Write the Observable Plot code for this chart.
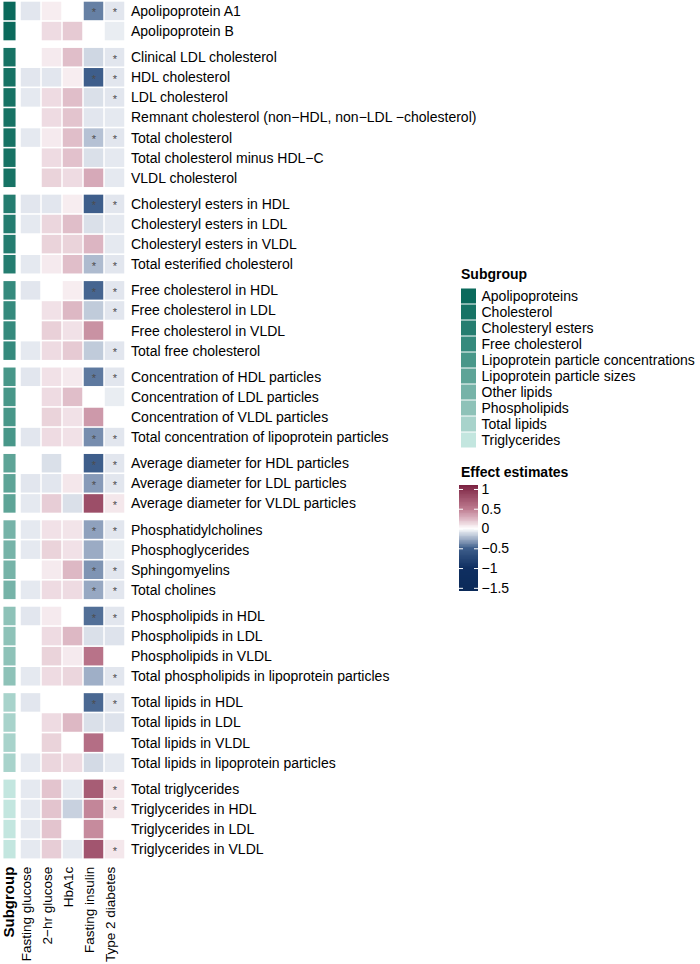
<!DOCTYPE html>
<html><head><meta charset="utf-8">
<script src="https://cdn.jsdelivr.net/npm/d3@7"></script>
<script src="https://cdn.jsdelivr.net/npm/@observablehq/plot@0.6"></script>
<style>
body{margin:0;background:#fff;font-family:"Liberation Sans",Arial,Helvetica,sans-serif;}
#wrap{position:relative;width:700px;height:964px;overflow:hidden;background:#fff;}
#wrap > *{position:absolute;}
.ltitle{font-weight:bold;font-size:14px;line-height:16px;color:#000;white-space:nowrap;}
</style></head><body><div id="wrap"></div><script>
// ---------- data ----------
const rows = [
  "Apolipoprotein A1","Apolipoprotein B",
  "Clinical LDL cholesterol","HDL cholesterol","LDL cholesterol",
  "Remnant cholesterol (non\u2212HDL, non\u2212LDL \u2212cholesterol)","Total cholesterol",
  "Total cholesterol minus HDL\u2212C","VLDL cholesterol",
  "Cholesteryl esters in HDL","Cholesteryl esters in LDL","Cholesteryl esters in VLDL","Total esterified cholesterol",
  "Free cholesterol in HDL","Free cholesterol in LDL","Free cholesterol in VLDL","Total free cholesterol",
  "Concentration of HDL particles","Concentration of LDL particles","Concentration of VLDL particles","Total concentration of lipoprotein particles",
  "Average diameter for HDL particles","Average diameter for LDL particles","Average diameter for VLDL particles",
  "Phosphatidylcholines","Phosphoglycerides","Sphingomyelins","Total cholines",
  "Phospholipids in HDL","Phospholipids in LDL","Phospholipids in VLDL","Total phospholipids in lipoprotein particles",
  "Total lipids in HDL","Total lipids in LDL","Total lipids in VLDL","Total lipids in lipoprotein particles",
  "Total triglycerides","Triglycerides in HDL","Triglycerides in LDL","Triglycerides in VLDL"
];
const subgroups = ["Apolipoproteins","Cholesterol","Cholesteryl esters","Free cholesterol",
  "Lipoprotein particle concentrations","Lipoprotein particle sizes","Other lipids",
  "Phospholipids","Total lipids","Triglycerides"];
const subgroupSizes = [2,7,4,4,4,3,4,4,4,4];
const subgroupColors = ["#0b6a5c","#177365","#257d70","#358a7d","#489789","#5ea497","#76b3a8","#8ec2b8","#a8d3cb","#c3e6df"];
const traits = ["Fasting glucose","2\u2212hr glucose","HbA1c","Fasting insulin","Type 2 diabetes"];

const fastingGlucose = [-0.08,0, 0,-0.08,-0.07,0,-0.07,0,0, -0.08,-0.07,0,-0.07, -0.08,0,0,-0.07,
  -0.08,0,0,-0.08, 0,-0.08,-0.07, -0.07,-0.07,0,-0.07, -0.08,0,0,-0.07, -0.08,0,0,-0.07, -0.07,-0.07,-0.07,-0.07];
const twoHrGlucose = [0.06,0.12, 0.07,-0.08,0.12,0.12,0.07,0.12,0.15, -0.08,0.14,0.15,0.07, 0,0.1,0.16,0.12,
  0.1,0.12,0.15,0.12, -0.1,-0.08,0.17, 0.1,0.15,0.07,0.12, 0.07,0.12,0.15,0.12, 0,0.12,0.15,0.14, 0.2,0.2,0.2,0.17];
const hba1c = [0,0.18, 0.22,0.06,0.22,0.2,0.22,0.21,0.12, 0.06,0.22,0.15,0.22, 0.06,0.24,0.1,0.18,
  0.07,0.22,0.1,0.1, 0,0.08,-0.1, 0.09,0.1,0.24,0.12, 0,0.24,0.07,0.14, 0,0.24,0,0.12, -0.07,-0.15,0,-0.07];
const fastingInsulin = [-0.4,0, -0.13,-0.5,-0.1,-0.08,-0.2,-0.1,0.3, -0.5,-0.1,0.25,-0.22, -0.48,-0.17,0.4,-0.17,
  -0.42,0,0.37,-0.36, -0.5,-0.32,0.8, -0.3,-0.27,-0.34,-0.28, -0.45,-0.1,0.55,-0.26, -0.47,-0.1,0.58,-0.12, 0.7,0.45,0.43,0.75];
const type2Diabetes = [-0.08,-0.06, -0.08,-0.08,-0.08,-0.07,-0.08,-0.07,-0.07, -0.08,-0.07,-0.07,-0.08, -0.08,-0.08,0,-0.08,
  -0.08,-0.06,0,-0.08, -0.08,-0.08,0.08, -0.08,-0.06,-0.08,-0.08, -0.08,-0.09,0,-0.08, -0.08,-0.09,0,-0.07, 0.08,0.08,0,0.08];
const sigInsulin = [1,0, 0,1,0,0,1,0,0, 1,0,0,1, 1,0,0,0, 1,0,0,1, 1,1,0, 1,0,1,1, 1,0,0,0, 1,0,0,0, 0,0,0,0];
const sigT2D = [1,0, 1,1,1,0,1,0,0, 1,0,0,1, 1,1,0,1, 1,0,0,1, 1,1,1, 1,0,1,1, 1,0,0,1, 1,0,0,0, 1,1,0,1];

const effectTicks = [-1.5,-1,-0.5,0,0.5,1];
const effectStops = [-1.58,-1,-0.5,-0.25,0,0.25,0.5,1.1];
const effectColors = ["#0b2a59","#0f2f61","#3e5e8b","#a3b2c9","#ffffff","#dcb5c2","#bd7a8f","#7b2241"];

// ---------- build tables ----------
const GAP = 0.3;
const groupIndex = [];
subgroupSizes.forEach((n, g) => { for (let k = 0; k < n; k++) groupIndex.push(g); });
const rowTable = rows.map((name, i) => ({name, g: groupIndex[i], subgroup: subgroups[groupIndex[i]], p: i + groupIndex[i] * GAP}));
const series = [fastingGlucose, twoHrGlucose, hba1c, fastingInsulin, type2Diabetes];
const sigs = [null, null, null, sigInsulin, sigT2D];
const cells = [];
rowTable.forEach((r, i) => traits.forEach((t, j) => cells.push({...r, trait: t, value: series[j][i], sig: sigs[j] ? sigs[j][i] : 0})));
const yMax = rows.length + (subgroups.length - 1) * GAP;

const FONT = '"Liberation Sans", Arial, Helvetica, sans-serif';
const colorScale = {type: "linear", domain: effectStops, range: effectColors, clamp: true};
const wrap = document.getElementById("wrap");

// ---------- main heatmap ----------
const main = Plot.plot({
  width: 700, height: 964,
  marginTop: 0.9, marginBottom: 104.8, marginLeft: 0, marginRight: 0,
  style: {fontFamily: FONT, fontSize: "14px", background: "transparent", color: "#000"},
  x: {type: "band", domain: ["Subgroup", ...traits], range: [-2.75, 126.25], padding: 0, axis: null},
  y: {domain: [0, yMax], reverse: true, axis: null},
  color: colorScale,
  marks: [
    ...subgroups.map((s, g) => Plot.barY(rowTable.filter(r => r.g === g), {
      x: () => "Subgroup", y1: "p", y2: d => d.p + 1, fill: subgroupColors[g],
      insetLeft: 4.45, insetRight: 4.45, insetTop: 0.8, insetBottom: 0.8
    })),
    Plot.barY(cells, {x: "trait", y1: "p", y2: d => d.p + 1, fill: "value",
      insetLeft: 0.75, insetRight: 0.75, insetTop: 0.8, insetBottom: 0.8}),
    Plot.text(cells.filter(d => d.sig), {x: "trait", y: d => d.p + 0.5, text: () => "*", fontSize: 11, fill: "#4d4d4d", dy: 1.5}),
    Plot.text(rowTable, {x: () => "Type 2 diabetes", y: d => d.p + 0.5, text: "name", textAnchor: "start", dx: 16, fontSize: 14, fill: "#000"}),
    Plot.text(traits, {x: d => d, frameAnchor: "bottom", text: d => d, rotate: -90, textAnchor: "end", dy: 7, fontSize: 13.5, fill: "#000"}),
    Plot.text(["Subgroup"], {x: d => d, frameAnchor: "bottom", text: d => d, rotate: -90, textAnchor: "end", dy: 7, dx: 3.5, fontSize: 15, fontWeight: "bold", fill: "#000"})
  ]
});
main.style.left = "0px"; main.style.top = "0px";
wrap.appendChild(main);

// ---------- subgroup legend ----------
const t1 = document.createElement("div");
t1.className = "ltitle"; t1.textContent = "Subgroup";
t1.style.left = "461px"; t1.style.top = "266px";
wrap.appendChild(t1);

const leg1 = Plot.plot({
  width: 240, height: 160, margin: 0,
  style: {fontFamily: FONT, fontSize: "14px", background: "transparent", color: "#000", overflow: "visible"},
  x: {type: "band", domain: ["swatch"], range: [0, 15], padding: 0, axis: null},
  y: {type: "band", domain: subgroups, range: [0, 160], padding: 0, axis: null},
  color: {type: "ordinal", domain: subgroups, range: subgroupColors},
  marks: [
    Plot.cell(subgroups, {x: () => "swatch", y: d => d, fill: d => d, insetTop: 0.5, insetBottom: 0.5}),
    Plot.text(subgroups, {x: () => "swatch", y: d => d, text: d => d, textAnchor: "start", dx: 12.5, fontSize: 14, fill: "#000"})
  ]
});
leg1.style.left = "461px"; leg1.style.top = "288px";
wrap.appendChild(leg1);

// ---------- effect colorbar ----------
const t2 = document.createElement("div");
t2.className = "ltitle"; t2.textContent = "Effect estimates";
t2.style.left = "461px"; t2.style.top = "464px";
wrap.appendChild(t2);

const rampStep = 0.02;
const ramp = d3.range(effectStops[0], effectStops[effectStops.length - 1], rampStep);
const fmt = d => d < 0 ? "\u2212" + Math.abs(d) : String(d);
const leg2 = Plot.plot({
  width: 100, height: 106, margin: 0,
  style: {fontFamily: FONT, fontSize: "14px", background: "transparent", color: "#000", overflow: "visible"},
  x: {type: "band", domain: ["bar"], range: [0, 19], padding: 0, axis: null},
  y: {domain: [effectStops[0], effectStops[effectStops.length - 1]], axis: null},
  color: colorScale,
  marks: [
    Plot.barY(ramp, {x: () => "bar", y1: d => d, y2: d => Math.min(d + rampStep * 2.5, effectStops[effectStops.length - 1]),
      fill: d => d + rampStep / 2, shapeRendering: "crispEdges"}),
    Plot.tickY(effectTicks, {x: () => "bar", y: d => d, stroke: "white", strokeWidth: 1, insetRight: 15}),
    Plot.tickY(effectTicks, {x: () => "bar", y: d => d, stroke: "white", strokeWidth: 1, insetLeft: 15}),
    Plot.text(effectTicks, {x: () => "bar", y: d => d, text: fmt, textAnchor: "start", dx: 12.5, fontSize: 14, fill: "#000"})
  ]
});
leg2.style.left = "459px"; leg2.style.top = "485px";
wrap.appendChild(leg2);
</script></body></html>
